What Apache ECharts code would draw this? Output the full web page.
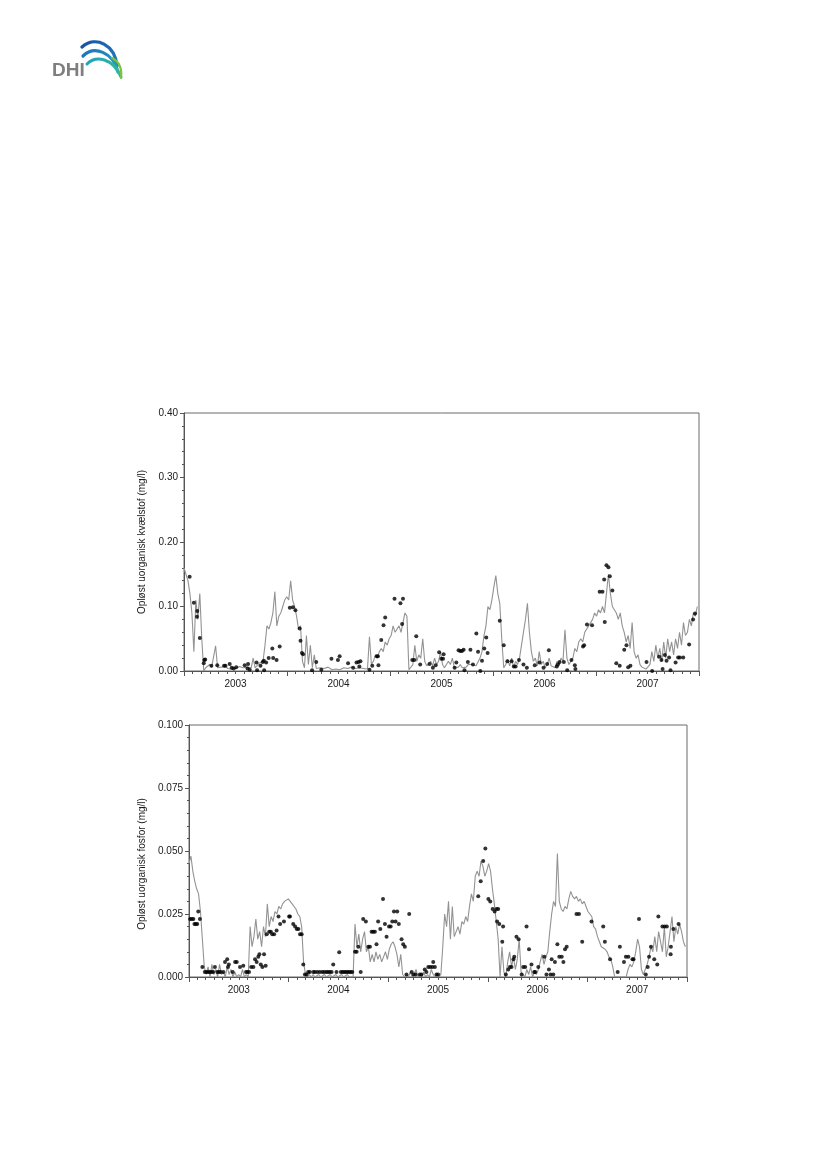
<!DOCTYPE html>
<html>
<head>
<meta charset="utf-8">
<script src="https://cdn.jsdelivr.net/npm/echarts@6/dist/echarts.min.js"></script>
<style>
html,body{margin:0;padding:0;background:#fff;}
#c{width:827px;height:1169px;}
</style>
</head>
<body>
<div id="c"></div>
<script>
// ---------- DATA ----------
const yearLabels = ['2003','2004','2005','2006','2007'];
const startDate = '2003-01-01';
const stepDays = 7;

// modelled dissolved inorganic nitrogen (weekly from 2003-01-01), mg/l
const nModel = [
0.16,0.15,0.14,0.12,0.09,0.03,0.11,0.08,0.12,0.05,
0.0,0.005,0.002,0.01,0.006,0.005,0.039,0.005,0.004,0.006,
0.003,0.008,0.004,0.005,0.003,0.006,0.004,0.003,0.007,0.004,
0.005,0.003,0.006,0.004,0.005,0.02,0.005,0.008,0.012,0.01,
0.015,0.04,0.07,0.065,0.075,0.09,0.123,0.07,0.085,0.09,
0.10,0.11,0.115,0.11,0.14,0.11,0.10,0.085,0.065,0.07,
0.015,0.005,0.055,0.01,0.04,0.005,0.025,0.004,0.003,0.005,
0.002,0.004,0.003,0.006,0.003,0.002,0.005,0.003,0.004,0.002,
0.003,0.005,0.002,0.004,0.003,0.006,0.003,0.004,0.002,0.005,
0.003,0.004,0.006,0.003,0.053,0.01,0.015,0.025,0.02,0.03,
0.035,0.03,0.045,0.04,0.05,0.055,0.07,0.06,0.065,0.07,
0.06,0.075,0.09,0.085,0.002,0.003,0.01,0.04,0.015,0.025,
0.02,0.05,0.015,0.008,0.005,0.015,0.008,0.02,0.01,0.015,
0.03,0.01,0.005,0.004,0.015,0.01,0.02,0.005,0.008,0.006,
0.01,0.005,0.008,0.006,0.01,0.008,0.01,0.012,0.008,0.01,
0.02,0.03,0.055,0.07,0.10,0.095,0.11,0.13,0.148,0.12,
0.105,0.05,0.005,0.01,0.018,0.008,0.02,0.005,0.015,0.01,
0.02,0.04,0.06,0.08,0.105,0.06,0.03,0.015,0.02,0.008,
0.03,0.01,0.015,0.005,0.01,0.02,0.008,0.01,0.005,0.015,
0.01,0.02,0.015,0.064,0.02,0.01,0.015,0.02,0.035,0.03,
0.045,0.05,0.045,0.06,0.065,0.07,0.075,0.08,0.09,0.085,
0.095,0.09,0.10,0.09,0.12,0.15,0.12,0.10,0.095,0.09,
0.08,0.09,0.07,0.06,0.045,0.055,0.035,0.075,0.03,0.02,
0.025,0.01,0.006,0.003,0.003,0.004,0.01,0.03,0.015,0.04,
0.02,0.035,0.015,0.045,0.02,0.05,0.03,0.045,0.025,0.05,
0.035,0.06,0.04,0.075,0.055,0.06,0.08,0.07,0.09,0.085,0.10
];

// observed nitrogen: day number since 2003-01-01 and value
const nObsDays = [20,35,46,47,56,70,72,75,97,118,142,147,162,169,176,185,215,225,227,233,257,259,271,279,283,284,291,300,313,316,328,339,375,386,395,410,413,418,422,454,469,487,523,546,552,582,600,612,619,626,622,658,668,684,688,690,700,708,714,747,768,777,774,810,817,824,838,871,883,893,905,913,919,921,960,966,974,980,986,992,995,1007,1016,1025,1037,1043,1051,1057,1065,1072,1077,1120,1134,1147,1162,1170,1176,1188,1204,1216,1244,1261,1275,1288,1294,1322,1326,1332,1347,1359,1374,1386,1388,1415,1419,1429,1447,1474,1484,1490,1492,1498,1505,1510,1519,1533,1545,1561,1569,1575,1583,1640,1660,1685,1693,1697,1705,1711,1720,1725,1743,1752,1758,1770,1791,1805,1812];
const nObsValues = [0.146,0.106,0.084,0.093,0.051,0.012,0.017,0.018,0.008,0.009,0.008,0.008,0.011,0.005,0.004,0.006,0.009,0.004,0.011,0.002,0.013,0.001,0.008,0.014,0.016,0.001,0.013,0.02,0.035,0.02,0.017,0.038,0.098,0.099,0.094,0.066,0.047,0.028,0.026,0.001,0.014,0.002,0.019,0.017,0.023,0.012,0.005,0.013,0.014,0.015,0.007,0.002,0.008,0.023,0.023,0.009,0.048,0.071,0.083,0.112,0.105,0.112,0.073,0.017,0.017,0.054,0.01,0.011,0.005,0.009,0.029,0.019,0.019,0.026,0.005,0.013,0.032,0.031,0.031,0.033,0.001,0.014,0.033,0.01,0.058,0.03,0.0,0.016,0.035,0.052,0.028,0.078,0.04,0.015,0.015,0.007,0.007,0.017,0.01,0.005,0.009,0.013,0.005,0.011,0.032,0.007,0.01,0.014,0.014,0.001,0.017,0.009,0.003,0.038,0.04,0.072,0.071,0.123,0.123,0.142,0.076,0.164,0.161,0.147,0.125,0.012,0.008,0.033,0.04,0.006,0.008,0.014,0.0,0.022,0.017,0.003,0.025,0.016,0.021,0.001,0.013,0.021,0.021,0.021,0.041,0.08,0.089];

// modelled dissolved inorganic phosphorus (weekly from 2003-01-01), mg/l
const pModel = [
0.045,0.048,0.042,0.038,0.035,0.033,0.026,0.015,0.004,0.001,
0.004,0.0,0.005,0.001,0.003,0.0,0.005,0.001,0.002,0.0,
0.004,0.001,0.003,0.0,0.002,0.0,0.001,0.0,0.003,0.0,
0.001,0.0,0.02,0.012,0.016,0.023,0.015,0.018,0.012,0.02,
0.016,0.029,0.02,0.024,0.022,0.026,0.025,0.028,0.027,0.029,
0.03,0.03,0.031,0.03,0.029,0.029,0.027,0.025,0.024,0.02,
0.006,0.001,0.0,0.001,0.0,0.001,0.0,0.0,0.001,0.0,
0.0,0.001,0.0,0.0,0.001,0.0,0.0,0.001,0.0,0.0,
0.001,0.0,0.0,0.001,0.0,0.0,0.0,0.021,0.012,0.017,
0.01,0.015,0.018,0.01,0.012,0.006,0.009,0.006,0.01,0.007,
0.009,0.006,0.008,0.01,0.007,0.011,0.013,0.014,0.012,0.009,
0.004,0.009,0.001,0.0,0.001,0.0,0.002,0.0,0.001,0.003,
0.0,0.001,0.0,0.002,0.0,0.001,0.0,0.003,0.001,0.0,
0.001,0.0,0.001,0.012,0.025,0.02,0.03,0.015,0.028,0.016,
0.018,0.02,0.017,0.022,0.021,0.024,0.022,0.028,0.033,0.03,
0.04,0.042,0.04,0.046,0.044,0.04,0.042,0.045,0.042,0.035,
0.029,0.022,0.015,0.0,0.012,0.002,0.0,0.006,0.01,0.004,
0.008,0.003,0.007,0.015,0.002,0.001,0.0,0.003,0.001,0.004,
0.0,0.002,0.001,0.003,0.006,0.009,0.005,0.008,0.01,0.018,
0.025,0.03,0.028,0.049,0.03,0.027,0.026,0.028,0.027,0.031,
0.034,0.032,0.031,0.032,0.03,0.031,0.029,0.03,0.028,0.026,
0.025,0.024,0.02,0.019,0.016,0.014,0.012,0.012,0.011,0.01,
0.008,0.007,0.004,0.0,0.0,0.0,0.0,0.0,0.0,0.0,
0.003,0.005,0.004,0.006,0.01,0.015,0.012,0.003,0.001,0.003,
0.005,0.008,0.012,0.01,0.016,0.01,0.018,0.014,0.01,0.02,
0.008,0.012,0.018,0.024,0.014,0.02,0.017,0.021,0.018,0.014,0.012
];

// observed phosphorus: day number since 2003-01-01 and value
const pObsDays = [4,10,16,20,25,30,34,40,49,58,64,70,76,82,88,95,104,110,116,126,132,140,143,146,160,169,175,187,199,209,214,220,228,236,242,248,254,258,263,269,275,281,285,294,300,305,312,321,328,334,348,367,370,382,389,395,401,407,413,419,425,431,437,443,456,462,471,480,489,496,504,510,516,523,529,541,551,557,563,569,575,581,587,593,599,609,615,621,630,639,649,658,664,670,676,682,688,694,702,712,719,725,734,740,746,752,758,764,770,780,786,792,798,808,817,824,831,847,853,865,871,878,885,893,896,902,908,914,1061,1070,1079,1087,1098,1105,1114,1121,1128,1134,1130,1138,1149,1152,1162,1171,1177,1183,1190,1193,1201,1209,1220,1226,1233,1238,1247,1256,1266,1270,1281,1303,1311,1320,1326,1330,1336,1342,1351,1358,1367,1373,1379,1385,1421,1430,1442,1476,1519,1525,1544,1572,1580,1595,1602,1611,1626,1630,1650,1675,1682,1687,1694,1706,1717,1721,1736,1744,1752,1766,1767,1776,1795];
const pObsValues = [0.023,0.023,0.023,0.021,0.021,0.021,0.026,0.023,0.004,0.002,0.002,0.002,0.002,0.002,0.002,0.004,0.002,0.002,0.002,0.002,0.006,0.007,0.004,0.005,0.002,0.006,0.006,0.004,0.0045,0.002,0.002,0.002,0.004,0.004,0.007,0.006,0.008,0.009,0.005,0.004,0.009,0.0045,0.017,0.018,0.018,0.017,0.017,0.0185,0.024,0.021,0.022,0.024,0.024,0.021,0.02,0.019,0.019,0.017,0.017,0.005,0.001,0.001,0.002,0.002,0.002,0.002,0.002,0.002,0.002,0.002,0.002,0.002,0.002,0.002,0.005,0.002,0.0098,0.002,0.002,0.002,0.002,0.002,0.002,0.002,0.002,0.01,0.01,0.012,0.002,0.023,0.022,0.012,0.012,0.018,0.018,0.018,0.013,0.022,0.019,0.031,0.021,0.016,0.02,0.02,0.022,0.026,0.022,0.026,0.021,0.015,0.013,0.012,0.001,0.025,0.002,0.001,0.001,0.001,0.001,0.003,0.002,0.004,0.004,0.004,0.006,0.004,0.001,0.001,0.032,0.038,0.046,0.051,0.031,0.03,0.027,0.026,0.027,0.027,0.022,0.021,0.014,0.02,0.001,0.003,0.004,0.004,0.007,0.008,0.016,0.015,0.001,0.004,0.004,0.02,0.011,0.005,0.002,0.002,0.004,0.008,0.001,0.003,0.001,0.007,0.001,0.006,0.013,0.008,0.008,0.006,0.011,0.012,0.025,0.025,0.014,0.022,0.02,0.014,0.007,0.002,0.012,0.006,0.008,0.008,0.007,0.007,0.023,0.001,0.004,0.008,0.012,0.007,0.005,0.024,0.02,0.02,0.02,0.009,0.012,0.019,0.021];

const nAxisTitle = 'Opløst uorganisk kvælstof (mg/l)';
const pAxisTitle = 'Opløst uorganisk fosfor (mg/l)';

// ---------- helpers ----------
const DAY = 86400000;
const t0 = Date.parse(startDate + 'T00:00:00Z');
function decYear(ms){
  const y = new Date(ms).getUTCFullYear();
  const s = Date.UTC(y,0,1), e = Date.UTC(y+1,0,1);
  return y + (ms - s)/(e - s);
}
function modelSeries(vals){ return vals.map((v,i)=>[decYear(t0 + i*stepDays*DAY), v]); }
function obsSeries(days, vals){ return days.map((d,i)=>[decYear(t0 + d*DAY), vals[i]]); }

const FONT = 'Liberation Sans, Arial, sans-serif';
const TXT = '#1a1a1a';
const AX = '#555';

function timeAxis(g){
  return {type:'value', gridIndex:g, min:2003, max:2008, interval:1,
    axisLine:{show:true, lineStyle:{color:AX, width:1}},
    axisTick:{show:true, length:5, lineStyle:{color:AX}},
    minorTick:{show:true, splitNumber:12, length:3, lineStyle:{color:AX}},
    axisLabel:{show:false}, splitLine:{show:false}};
}
function labelAxis(g){
  return {type:'category', gridIndex:g, data:yearLabels, boundaryGap:true, position:'bottom',
    axisLine:{show:false}, axisTick:{show:false}, splitLine:{show:false},
    axisLabel:{show:true, margin:8, fontSize:10, fontFamily:FONT, color:TXT}};
}
function valAxis(g, max, interval, digits, title, gap, pad){
  return {type:'value', gridIndex:g, min:0, max:max, interval:interval,
    name:title, nameLocation:'middle', nameGap:gap, nameRotate:90,
    nameTextStyle:{fontSize:10, fontFamily:FONT, color:TXT, padding:pad},
    axisLine:{show:true, lineStyle:{color:AX, width:1}},
    axisTick:{show:true, length:4, lineStyle:{color:AX}},
    minorTick:{show:true, splitNumber:5, length:2, lineStyle:{color:AX}},
    splitLine:{show:false},
    axisLabel:{fontSize:10, fontFamily:FONT, color:TXT, margin:6, formatter:v=>v.toFixed(digits)}};
}
function grad(c1, c2){
  return new echarts.graphic.LinearGradient(0,0,1,1,[{offset:0,color:c1},{offset:1,color:c2}]);
}

const chart = echarts.init(document.getElementById('c'), null, {renderer:'canvas'});
chart.setOption({
  animation:false,
  backgroundColor:'#fff',
  grid:[
    {left:184, top:413, width:515, height:258, show:true, borderColor:'#6a6a6a', borderWidth:1, backgroundColor:'transparent'},
    {left:189, top:725, width:498, height:252, show:true, borderColor:'#6a6a6a', borderWidth:1, backgroundColor:'transparent'}
  ],
  xAxis:[timeAxis(0), labelAxis(0), timeAxis(1), labelAxis(1)],
  yAxis:[
    valAxis(0, 0.4, 0.1, 2, nAxisTitle, 36, [0,0,0,0]),
    valAxis(1, 0.1, 0.025, 3, pAxisTitle, 40, [0,26,0,0])
  ],
  series:[
    {type:'line', xAxisIndex:0, yAxisIndex:0, data:modelSeries(nModel), showSymbol:false, symbol:'none',
      lineStyle:{color:'#939393', width:1.1}, z:2},
    {type:'scatter', xAxisIndex:0, yAxisIndex:0, data:obsSeries(nObsDays, nObsValues), symbol:'circle', symbolSize:4,
      itemStyle:{color:'#000'}, z:3},
    {type:'line', xAxisIndex:2, yAxisIndex:1, data:modelSeries(pModel), showSymbol:false, symbol:'none',
      lineStyle:{color:'#939393', width:1.1}, z:2},
    {type:'scatter', xAxisIndex:2, yAxisIndex:1, data:obsSeries(pObsDays, pObsValues), symbol:'circle', symbolSize:4,
      itemStyle:{color:'#000'}, z:3}
  ],
  graphic:[
    {type:'text', left:52, top:61, style:{text:'DHI', fontSize:19, fontWeight:'bold', fontFamily:FONT, fill:'#7f7f7f'}},
    {type:'bezierCurve', shape:{x1:82,y1:47, x2:117,y2:66, cpx1:96,cpy1:35, cpx2:115,cpy2:45},
      style:{stroke:grad('#1b4f9c','#1f7fc4'), lineWidth:3.4, fill:null, lineCap:'round'}},
    {type:'bezierCurve', shape:{x1:83,y1:56, x2:118,y2:72, cpx1:94,cpy1:45, cpx2:113,cpy2:52},
      style:{stroke:grad('#1e6fb8','#1fa3c8'), lineWidth:3.2, fill:null, lineCap:'round'}},
    {type:'bezierCurve', shape:{x1:87,y1:64, x2:121,y2:77, cpx1:96,cpy1:55, cpx2:113,cpy2:58},
      style:{stroke:grad('#1c9fc4','#3dbb8a'), lineWidth:3, fill:null, lineCap:'round'}},
    {type:'bezierCurve', shape:{x1:112,y1:58, x2:121,y2:78, cpx1:120,cpy1:62, cpx2:122,cpy2:70},
      style:{stroke:'#7cc242', lineWidth:2.2, fill:null, lineCap:'round'}}
  ]
});
</script>
</body>
</html>
